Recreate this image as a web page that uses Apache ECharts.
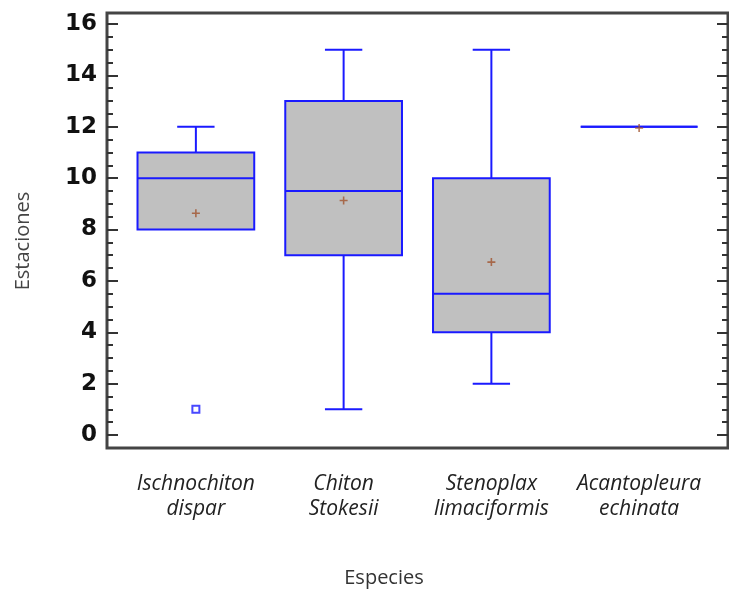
<!DOCTYPE html>
<html>
<head>
<meta charset="utf-8">
<script src="https://cdn.jsdelivr.net/npm/echarts@6/dist/echarts.min.js"></script>
<style>
  html, body { margin: 0; padding: 0; background: #fff; }
  #chart { width: 729px; height: 594px; }
</style>
</head>
<body>
<div id="chart"></div>
<script>
'use strict';

// especies (eje x)
var species = ['Ischnochiton\ndispar', 'Chiton\nStokesii', 'Stenoplax\nlimaciformis', 'Acantopleura\nechinata'];
// resumen de cada caja
var mins    = [8, 1, 2, 12];
var q1s     = [8, 7, 4, 12];
var medians = [10, 9.5, 5.5, 12];
var q3s     = [11, 13, 10, 12];
var maxs    = [12, 15, 15, 12];
var means   = [8.63, 9.13, 6.73, 11.95];
// valores atipicos [indice especie, valor]
var outliers = [[0, 1]];
var yTicks = [0, 16, 2];

var boxData = species.map(function (s, i) {
    return [i, mins[i], q1s[i], medians[i], q3s[i], maxs[i]];
});
var meanData = means.map(function (m, i) { return [i, m]; });

var blue = '#1a1aff';

function renderBox(params, api) {
    var i = api.value(0);
    var bw = api.size([1, 0])[0] * 0.79;
    var cw = bw * 0.32;
    var pMin = api.coord([i, api.value(1)]);
    var pQ1 = api.coord([i, api.value(2)]);
    var pMed = api.coord([i, api.value(3)]);
    var pQ3 = api.coord([i, api.value(4)]);
    var pMax = api.coord([i, api.value(5)]);
    var x = pMed[0];
    var line = { stroke: blue, lineWidth: 2 };
    var kids = [];
    if (pMax[1] < pQ3[1]) {
        kids.push({ type: 'line', shape: { x1: x, y1: pMax[1], x2: x, y2: pQ3[1] }, style: line });
        kids.push({ type: 'line', shape: { x1: x - cw / 2, y1: pMax[1], x2: x + cw / 2, y2: pMax[1] }, style: line });
    }
    if (pMin[1] > pQ1[1]) {
        kids.push({ type: 'line', shape: { x1: x, y1: pQ1[1], x2: x, y2: pMin[1] }, style: line });
        kids.push({ type: 'line', shape: { x1: x - cw / 2, y1: pMin[1], x2: x + cw / 2, y2: pMin[1] }, style: line });
    }
    kids.push({
        type: 'rect',
        shape: { x: x - bw / 2, y: pQ3[1], width: bw, height: pQ1[1] - pQ3[1] },
        style: { fill: '#c0c0c0', stroke: blue, lineWidth: 2 }
    });
    kids.push({ type: 'line', shape: { x1: x - bw / 2, y1: pMed[1], x2: x + bw / 2, y2: pMed[1] }, style: line });
    return { type: 'group', children: kids };
}

var chart = echarts.init(document.getElementById('chart'));

var yCommon = {
    type: 'value',
    gridIndex: 1,
    min: yTicks[0],
    max: yTicks[1],
    interval: yTicks[2],
    offset: 15,
    splitLine: { show: false },
    axisLine: { show: false },
    axisTick: { show: true, inside: true, length: 11, lineStyle: { color: '#333', width: 2 } },
    minorTick: { show: true, splitNumber: 4, length: 6, lineStyle: { color: '#333', width: 2 } },
    minorSplitLine: { show: false }
};

var option = {
    animation: false,
    backgroundColor: '#fff',
    grid: [
        { left: 107, right: 1, top: 13, bottom: 146, show: true, borderColor: '#444', borderWidth: 3, backgroundColor: 'transparent' },
        { left: 122, right: 16, top: 24, bottom: 159 }
    ],
    xAxis: [
        { type: 'value', gridIndex: 0, show: false, min: 0, max: 1 },
        {
            type: 'category',
            gridIndex: 1,
            data: species,
            axisLine: { show: false },
            axisTick: { show: false },
            axisLabel: {
                margin: 37,
                interval: 0,
                fontFamily: 'Open Sans',
                fontStyle: 'italic',
                fontSize: 21,
                lineHeight: 25,
                color: '#222'
            }
        }
    ],
    yAxis: [
        { type: 'value', gridIndex: 0, show: false, min: 0, max: 1 },
        Object.assign({}, yCommon, {
            position: 'left',
            axisLabel: {
                margin: 10,
                fontFamily: 'DejaVu Sans',
                fontWeight: 'bold',
                fontSize: 23,
                color: '#111'
            }
        }),
        Object.assign({}, yCommon, {
            position: 'right',
            axisLabel: { show: false }
        })
    ],
    graphic: [
        {
            type: 'text',
            x: 23, y: 241,
            rotation: Math.PI / 2,
            style: {
                text: 'Estaciones',
                fontFamily: 'Open Sans',
                fontSize: 20,
                fill: '#444',
                align: 'center',
                verticalAlign: 'middle'
            }
        },
        {
            type: 'text',
            x: 384, y: 578,
            style: {
                text: 'Especies',
                fontFamily: 'Open Sans',
                fontSize: 20,
                fill: '#333',
                align: 'center',
                verticalAlign: 'middle'
            }
        }
    ],
    series: [
        {
            type: 'custom',
            xAxisIndex: 1,
            yAxisIndex: 1,
            renderItem: renderBox,
            encode: { x: 0, y: [1, 2, 3, 4, 5] },
            data: boxData,
            z: 2
        },
        {
            type: 'scatter',
            xAxisIndex: 1,
            yAxisIndex: 1,
            data: meanData,
            symbol: 'path://M4,0H6V4H10V6H6V10H4V6H0V4H4Z',
            symbolSize: 8,
            itemStyle: { color: '#a0522d' },
            z: 3
        },
        {
            type: 'scatter',
            xAxisIndex: 1,
            yAxisIndex: 1,
            data: outliers,
            symbol: 'rect',
            symbolSize: 7,
            itemStyle: { color: '#fff', borderColor: blue, borderWidth: 2 },
            z: 3
        }
    ]
};

chart.setOption(option);
</script>
</body>
</html>
